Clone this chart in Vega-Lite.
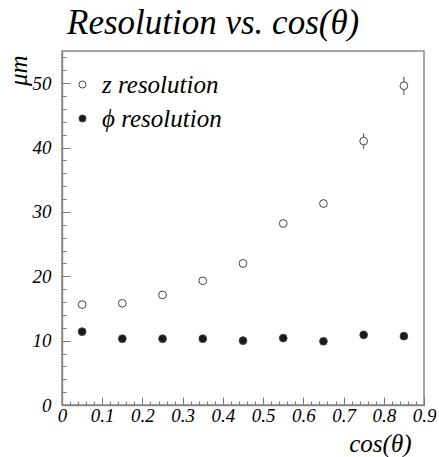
{
  "$schema": "https://vega.github.io/schema/vega-lite/v6.json",
  "autosize": "none",
  "width": 362,
  "height": 354,
  "padding": {"left": 62, "top": 51, "right": 15, "bottom": 52},
  "background": "white",
  "title": {
    "text": "Resolution vs. cos(θ)",
    "font": "Liberation Serif",
    "fontStyle": "italic",
    "fontWeight": "normal",
    "fontSize": 35,
    "color": "black",
    "anchor": "start",
    "frame": "group",
    "dx": 5,
    "offset": 10
  },
  "config": {
    "view": {"stroke": "#888", "strokeWidth": 1.5},
    "axis": {
      "labelFont": "Liberation Serif",
      "labelFontStyle": "italic",
      "labelFontSize": 19,
      "labelColor": "black",
      "titleFont": "Liberation Serif",
      "titleFontStyle": "italic",
      "titleFontWeight": "normal",
      "titleColor": "black",
      "domainColor": "#888",
      "domainWidth": 1.5,
      "tickColor": "#777",
      "tickWidth": 1,
      "grid": false
    }
  },
  "data": {
    "values": [
      {"x": 0.05, "y": 15.6, "lo": 15.3, "hi": 15.9, "series": "z resolution"},
      {"x": 0.15, "y": 15.8, "lo": 15.5, "hi": 16.1, "series": "z resolution"},
      {"x": 0.25, "y": 17.1, "lo": 16.8, "hi": 17.4, "series": "z resolution"},
      {"x": 0.35, "y": 19.3, "lo": 19.0, "hi": 19.6, "series": "z resolution"},
      {"x": 0.45, "y": 22.0, "lo": 21.6, "hi": 22.4, "series": "z resolution"},
      {"x": 0.55, "y": 28.2, "lo": 27.6, "hi": 28.8, "series": "z resolution"},
      {"x": 0.65, "y": 31.3, "lo": 30.6, "hi": 32.0, "series": "z resolution"},
      {"x": 0.75, "y": 41.0, "lo": 39.8, "hi": 42.2, "series": "z resolution"},
      {"x": 0.85, "y": 49.6, "lo": 48.2, "hi": 51.0, "series": "z resolution"},
      {"x": 0.05, "y": 11.4, "lo": 11.2, "hi": 11.6, "series": "ϕ resolution"},
      {"x": 0.15, "y": 10.3, "lo": 10.1, "hi": 10.5, "series": "ϕ resolution"},
      {"x": 0.25, "y": 10.3, "lo": 10.1, "hi": 10.5, "series": "ϕ resolution"},
      {"x": 0.35, "y": 10.3, "lo": 10.1, "hi": 10.5, "series": "ϕ resolution"},
      {"x": 0.45, "y": 10.0, "lo": 9.8, "hi": 10.2, "series": "ϕ resolution"},
      {"x": 0.55, "y": 10.4, "lo": 10.2, "hi": 10.6, "series": "ϕ resolution"},
      {"x": 0.65, "y": 9.9, "lo": 9.7, "hi": 10.1, "series": "ϕ resolution"},
      {"x": 0.75, "y": 10.9, "lo": 10.7, "hi": 11.1, "series": "ϕ resolution"},
      {"x": 0.85, "y": 10.7, "lo": 10.5, "hi": 10.9, "series": "ϕ resolution"}
    ]
  },
  "resolve": {"axis": {"x": "independent", "y": "independent"}},
  "layer": [
    {
      "mark": {"type": "point", "opacity": 0},
      "encoding": {
        "x": {
          "field": "x",
          "type": "quantitative",
          "scale": {"domain": [0, 0.9], "nice": false, "zero": false},
          "axis": {
            "orient": "bottom",
            "offset": 0,
            "title": null,
            "labels": false,
            "domain": false,
            "values": [0.02,0.04,0.06,0.08,0.12,0.14,0.16,0.18,0.22,0.24,0.26,0.28,0.32,0.34,0.36,0.38,0.42,0.44,0.46,0.48,0.52,0.54,0.56,0.58,0.62,0.64,0.66,0.68,0.72,0.74,0.76,0.78,0.82,0.84,0.86,0.88],
            "tickSize": -4
          }
        },
        "y": {
          "field": "y",
          "type": "quantitative",
          "scale": {"domain": [0, 55], "nice": false},
          "axis": {
            "orient": "left",
            "offset": 0,
            "title": null,
            "labels": false,
            "domain": false,
            "values": [2,4,6,8,12,14,16,18,22,24,26,28,32,34,36,38,42,44,46,48,52,54],
            "tickSize": -4
          }
        }
      }
    },
    {
      "mark": {"type": "rule", "color": "#444", "strokeWidth": 1},
      "encoding": {
        "x": {
          "field": "x",
          "type": "quantitative",
          "axis": {
            "orient": "bottom",
            "offset": 0,
            "title": "cos(θ)",
            "titleFontSize": 25,
            "titleAnchor": "end",
            "titleAlign": "right",
            "titleX": 349,
            "titleY": 46,
            "titleBaseline": "alphabetic",
            "values": [0,0.1,0.2,0.3,0.4,0.5,0.6,0.7,0.8,0.9],
            "format": ".1~f",
            "labelOverlap": false,
            "labelFlush": false,
            "labelPadding": 9,
            "tickSize": -8
          }
        },
        "y": {
          "field": "lo",
          "type": "quantitative",
          "axis": {
            "orient": "left",
            "offset": 0,
            "title": "μm",
            "titleFontSize": 25,
            "titleAngle": -90,
            "titleAlign": "right",
            "titleBaseline": "alphabetic",
            "titleX": -36,
            "titleY": 4,
            "values": [0,10,20,30,40,50],
            "labelOverlap": false,
            "labelFlush": false,
            "labelPadding": 19,
            "tickSize": -8
          }
        },
        "y2": {"field": "hi"}
      }
    },
    {
      "mark": {"type": "point", "shape": "circle", "filled": false, "size": 60, "strokeWidth": 1, "stroke": "#444", "opacity": 1},
      "encoding": {
        "x": {"field": "x", "type": "quantitative", "axis": null},
        "y": {"field": "y", "type": "quantitative", "axis": null},
        "fill": {
          "field": "series",
          "type": "nominal",
          "scale": {"domain": ["z resolution", "ϕ resolution"], "range": ["white", "#1a1a1a"]},
          "legend": {
            "title": null,
            "orient": "none",
            "legendX": 8,
            "legendY": 21,
            "padding": 0,
            "labelFont": "Liberation Serif",
            "labelFontStyle": "italic",
            "labelFontSize": 25,
            "labelColor": "black",
            "symbolType": "circle",
            "symbolSize": 50,
            "symbolStrokeColor": "#444",
            "symbolStrokeWidth": 1,
            "rowPadding": 8,
            "labelOffset": 7
          }
        }
      }
    }
  ]
}
